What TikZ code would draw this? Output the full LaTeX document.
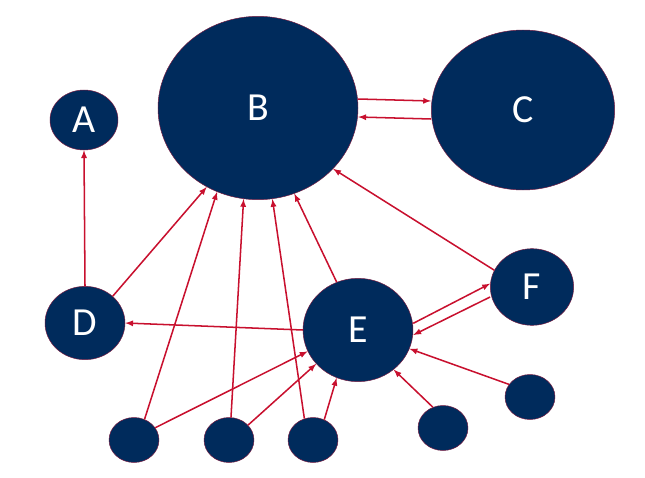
\documentclass[tikz,border=0pt]{standalone}
\usepackage{fontspec}
\setmainfont{Carlito}
\usetikzlibrary{shapes.geometric}
\definecolor{navy}{HTML}{002B5C}
\definecolor{crimson}{HTML}{C8102E}

\begin{document}
\begin{tikzpicture}[x=0.03cm,y=-0.03cm,
    bubble/.style={draw=crimson!60!navy, ellipse, fill=navy, text=white, inner sep=0pt,
      font=\fontsize{34}{34}\selectfont},
    link/.style={draw=crimson, line width=1.3pt, -latex}]
        \useasboundingbox (0,0) rectangle (645,478);
        \node[bubble, minimum width=68\pgflinewidth, minimum width=2.04cm, minimum height=1.8cm] (nodeA) at (84,120) {A};
        \node[bubble, minimum width=6cm, minimum height=5.5cm] (nodeB) at (258,108) {B};
        \node[bubble, minimum width=5.5cm, minimum height=4.8cm] (nodeC) at (523,110) {C};
        \node[bubble, minimum width=2.4cm, minimum height=2.2cm] (nodeD) at (85,323) {D};
        \node[bubble, minimum width=3.3cm, minimum height=3.1cm] (nodeE) at (358,330) {E};
        \node[bubble, minimum width=2.5cm, minimum height=2.3cm] (nodeF) at (532,287) {F};
        \node[bubble, minimum width=1.5cm, minimum height=1.35cm] (leaf1) at (134,440) {};
        \node[bubble, minimum width=1.5cm, minimum height=1.35cm] (leaf2) at (229,440) {};
        \node[bubble, minimum width=1.5cm, minimum height=1.35cm] (leaf3) at (313,440) {};
        \node[bubble, minimum width=1.5cm, minimum height=1.35cm] (leaf4) at (443,428) {};
        \node[bubble, minimum width=1.5cm, minimum height=1.35cm] (leaf5) at (530,397) {};

        \draw[link] (nodeD.north) -- (nodeA.south);
        \draw[link] (nodeD.44) -- (nodeB.-123);
        \draw[link] (nodeE.west) -- (nodeD.east);
        \draw[link] (nodeE.114) -- (nodeB.-67);
        \draw[link] (nodeF.156) -- (nodeB.-39);
        \draw[link] ([yshift=-0.27cm]nodeC.west) -- ([yshift=-0.27cm]nodeB.east);
        \draw[link] ([yshift=0.27cm]nodeB.east) -- ([yshift=0.27cm]nodeC.west);
        \draw[link] ([yshift=-0.3cm]nodeF.west) -- ([yshift=-0.15cm]nodeE.east);
        \draw[link] ([yshift=0.2cm]nodeE.east) -- ([yshift=0.1cm]nodeF.west);
        \draw[link] (leaf1.63) -- (nodeB.-116);
        \draw[link] (leaf1.30) -- (nodeE.-157);
        \draw[link] (leaf2.85) -- (nodeB.-99);
        \draw[link] (leaf2.38) -- (nodeE.-141);
        \draw[link] (leaf3.112) -- (nodeB.-81);
        \draw[link] (leaf3.61) -- (nodeE.-114);
        \draw[link] (leaf4.116) -- (nodeE.-48);
        \draw[link] (leaf5.149) -- (nodeE.-20);
    \end{tikzpicture}
\end{document}
